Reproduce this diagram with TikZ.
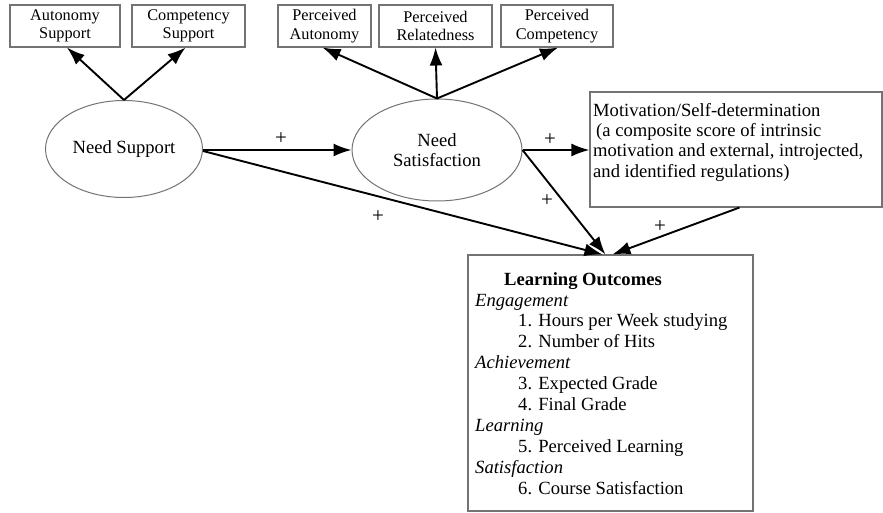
\documentclass[tikz,border=0pt]{standalone}
\usepackage{fontspec}
\setmainfont{Liberation Serif}
\usetikzlibrary{shapes.geometric,arrows.meta,calc}
\tikzset{
  topbox/.style={draw=black!55, line width=1.1pt, rectangle, minimum height=42pt, inner sep=0pt, align=center, font=\fontsize{16.3}{18.5}\selectfont},
  latent/.style={draw=black!55, line width=1pt, ellipse, inner sep=0pt, align=center, font=\fontsize{18.6}{20}\selectfont},
  bigbox/.style={draw=black!55, line width=1.1pt, rectangle, inner sep=0pt},
  txt/.style={inner sep=0pt, align=left, anchor=north west},
  arr/.style={line width=1.9pt, -{Latex[length=18pt,width=13pt]}},
  plus/.style={inner sep=0pt, font=\fontsize{21}{21}\selectfont}
}
\begin{document}
\begin{tikzpicture}[x=1pt,y=-1pt]
\useasboundingbox (0,0) rectangle (883,513);
% top boxes
\node[topbox, minimum width=110pt] (as) at (65,26) {Autonomy\\Support};
\node[topbox, minimum width=113pt] (cs) at (188.5,26) {Competency\\Support};
\node[topbox, minimum width=93pt] (pa) at (324.5,26) {Perceived\\Autonomy};
\node[topbox, minimum width=113pt] (pr) at (435.5,26) {Perceived\\Relatedness};
\node[topbox, minimum width=112pt] (pc) at (557,26) {Perceived\\Competency};
% latent ellipses
\node[latent, minimum width=157pt, minimum height=97pt] (nsup) at (124,149) {Need Support};
\node[latent, minimum width=170pt, minimum height=102pt] (nsat) at (437,150) {Need\\Satisfaction};
% motivation box
\node[bigbox, minimum width=292pt, minimum height=115pt] (mot) at (736,149.5) {};
\node[txt, font=\fontsize{18.6}{20.3}\selectfont] (mottext) at (593,103) {Motivation/Self-determination\\\hspace*{3pt}(a composite score of intrinsic\\motivation and external, introjected,\\and identified regulations)};
% learning outcomes box
\node[bigbox, minimum width=285pt, minimum height=256pt] (lo) at (610.5,383) {};
\node[txt, font=\fontsize{18.6}{20.9}\selectfont] (lotext) at (475,272) {\hspace*{29pt}\textbf{Learning Outcomes}\\
\textit{Engagement}\\
\hspace*{43pt}1. Hours per Week studying\\
\hspace*{43pt}2. Number of Hits\\
\textit{Achievement}\\
\hspace*{43pt}3. Expected Grade\\
\hspace*{43pt}4. Final Grade\\
\textit{Learning}\\
\hspace*{43pt}5. Perceived Learning\\
\textit{Satisfaction}\\
\hspace*{43pt}6. Course Satisfaction};
% coordinates for arrow ends
\coordinate (lo1) at ($(lo.north west)+(135,0)$);
\coordinate (lo2) at ($(lo.north west)+(138,0)$);
\coordinate (lo3) at ($(lo.north west)+(145,0)$);
\coordinate (motb) at ($(mot.south west)+(150,0)$);
% arrows
\draw[arr] (nsup.north) -- ($(as.south)+(2,0)$);
\draw[arr] (nsup.north) -- ($(cs.south)+(-3,0)$);
\draw[arr] (nsat.north) -- ($(pa.south)+(-2,0)$);
\draw[arr] (nsat.north) -- (pr.south);
\draw[arr] (nsat.north) -- ($(pc.south)+(1,0)$);
\draw[arr] (nsup.east |- nsat.west) -- (nsat.west);
\draw[arr] ($(nsup.east)+(0,2)$) -- (lo1);
\draw[arr] (nsat.east) -- (mot.west |- nsat.east);
\draw[arr] (nsat.east) -- (lo2);
\draw[arr] (motb) -- (lo3);
% plus labels
\node[plus] (p1) at (281,139) {+};
\node[plus] (p2) at (378,217) {+};
\node[plus] (p3) at (550,140) {+};
\node[plus] (p4) at (547,201) {+};
\node[plus] (p5) at (660,227) {+};
\end{tikzpicture}
\end{document}
